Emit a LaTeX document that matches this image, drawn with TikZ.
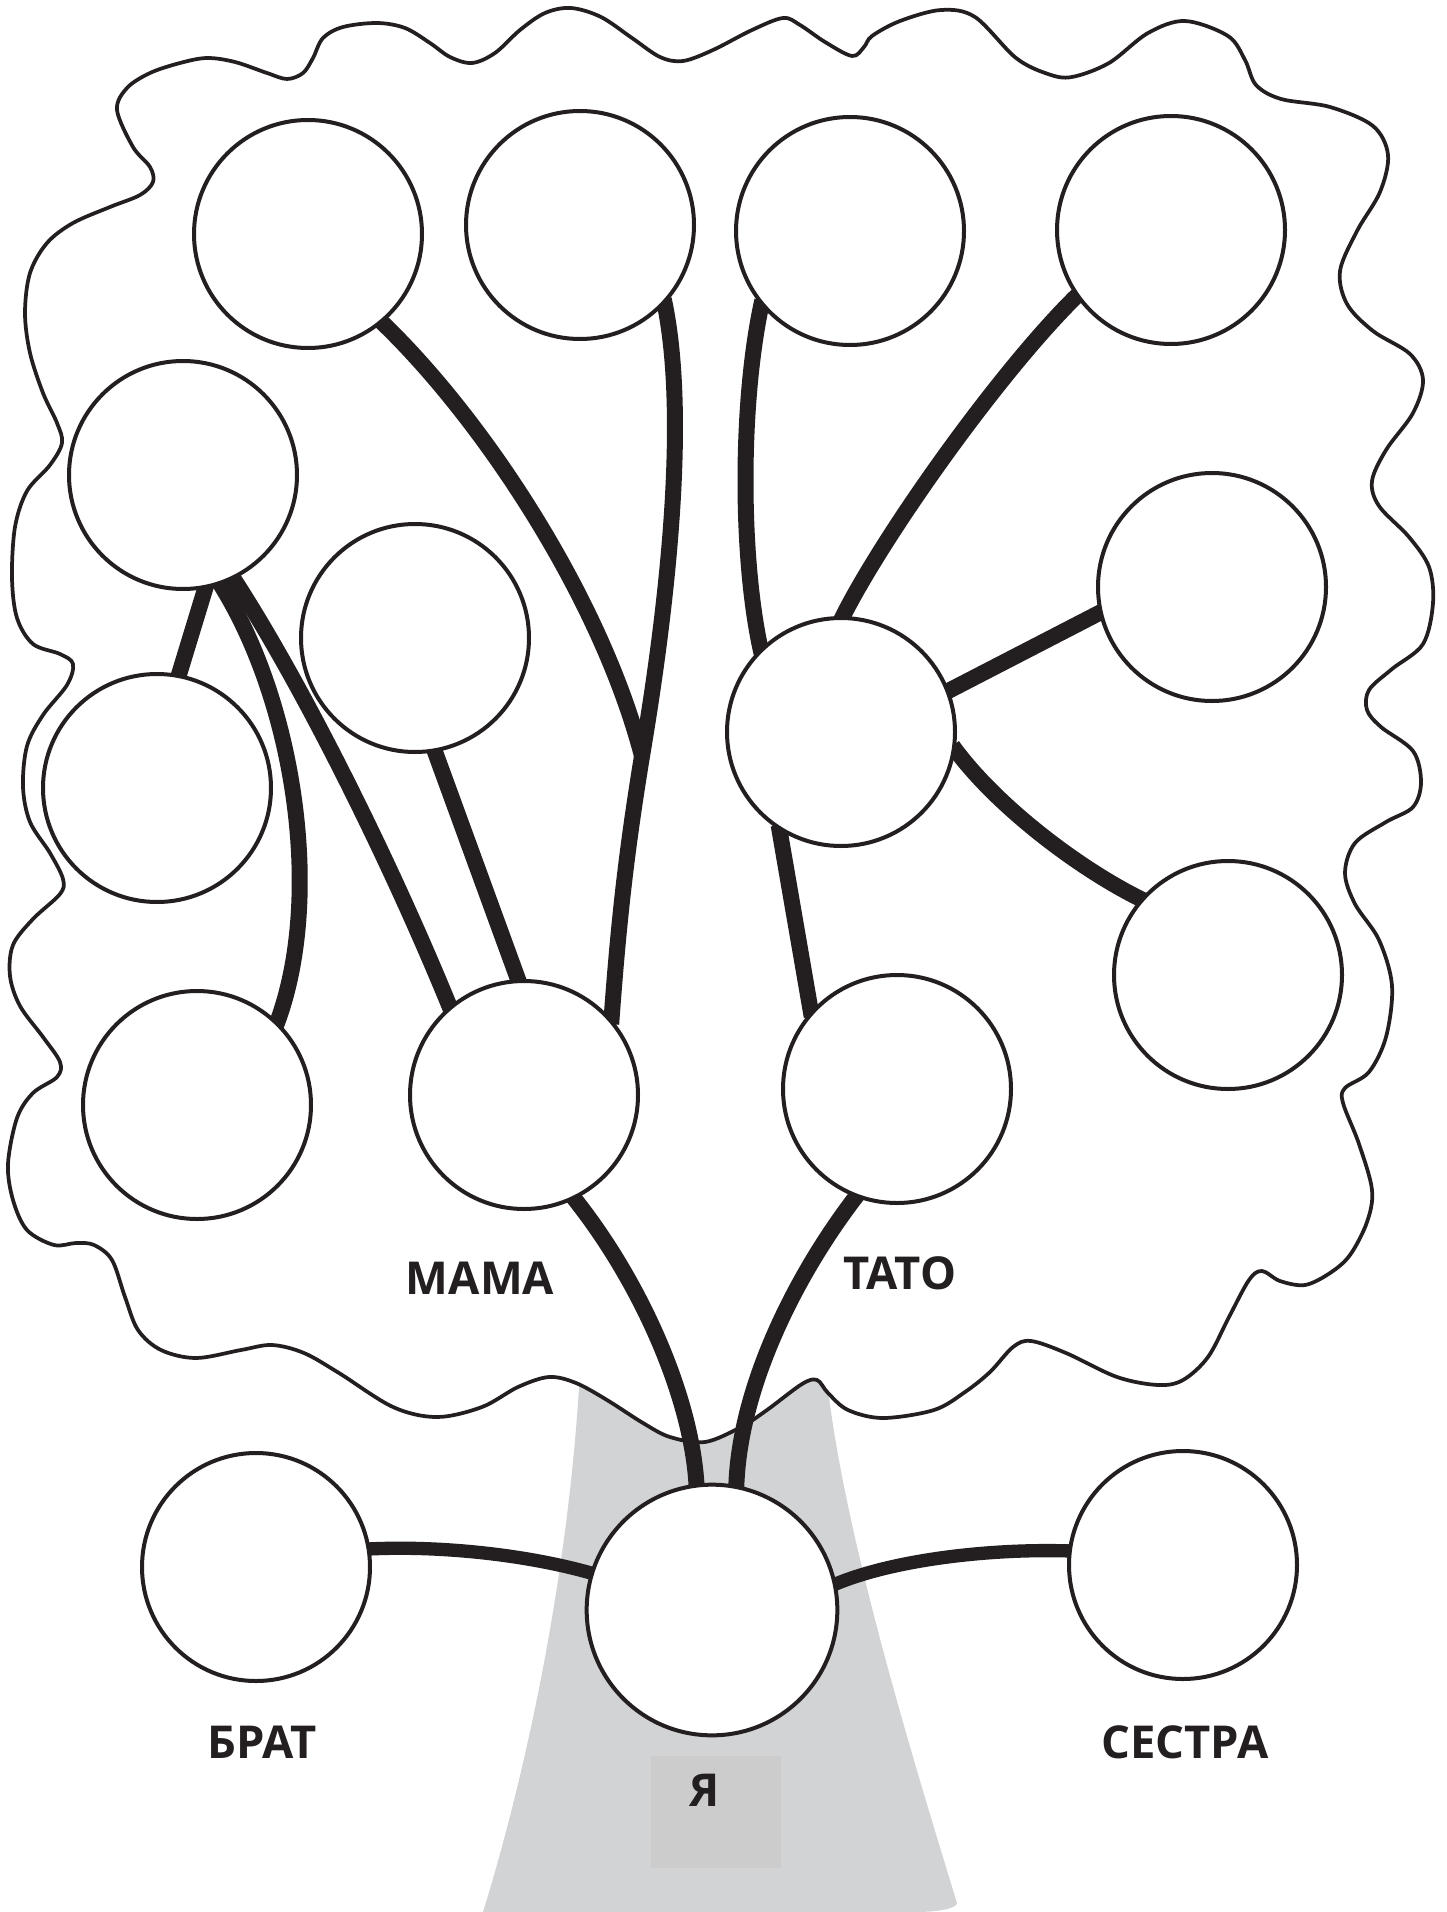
\documentclass[tikz,border=0pt]{standalone}
\usepackage{fontspec}
\setmainfont{Open Sans}
\usetikzlibrary{backgrounds}
\definecolor{inkc}{RGB}{35,31,32}
\definecolor{trunkc}{RGB}{209,211,212}
\definecolor{boxc}{RGB}{204,204,204}
\tikzset{
  ring/.style={circle, draw=inkc, line width=3pt, fill=white, minimum size=171pt, inner sep=0pt},
  bigring/.style={ring, minimum size=188pt},
  branch/.style={draw=inkc, line width=12pt, shorten <=-4pt, shorten >=-4pt},
  twig/.style={branch, line width=10pt},
  word/.style={text=inkc, font=\fontsize{34}{38}\selectfont\bfseries, inner sep=0pt}
}

\begin{document}
\begin{tikzpicture}[x=0.75pt,y=0.75pt,yscale=-1,xscale=1]
\useasboundingbox (0,0) rectangle (1446,1912);

%Shape: Circle (top row)
\node[ring] (g1) at (308,234) {};
\node[ring] (g2) at (580,225) {};
\node[ring] (g3) at (850,231) {};
\node[ring] (g4) at (1171,230) {};
%Shape: Circle (left side)
\node[ring] (g5) at (183,475) {};
\node[ring] (g6) at (415,638) {};
\node[ring] (g7) at (157,788) {};
\node[ring] (g8) at (197,1105) {};
%Shape: Circle (right side)
\node[ring] (p1) at (841,732) {};
\node[ring] (r2) at (1212,587) {};
\node[ring] (r3) at (1228,975) {};
%Shape: Circle (parents)
\node[ring] (mama) at (524,1095) {};
\node[ring] (tato) at (897,1089) {};
%Shape: Circle (children)
\node[ring] (brat) at (256,1567) {};
\node[bigring] (ja) at (712,1610) {};
\node[ring] (sestra) at (1183,1565) {};
%Shape: Rectangle
\node[fill=boxc, minimum width=98pt, minimum height=84pt, inner sep=0pt] (jabox) at (716,1812) {};

% Text Node
\node[word] (mamatxt) at (480,1278) {МАМА};
% Text Node
\node[word] (tatotxt) at (900,1273) {ТАТО};
% Text Node
\node[word] (brattxt) at (262,1742) {БРАТ};
% Text Node
\node[word] (sestratxt) at (1185,1742) {СЕСТРА};
% Text Node
\node[word] (jatxt) at (705,1790) {Я};

\coordinate (fork) at (642,756);

\begin{scope}[on background layer]
%Shape: Trunk
\fill[trunkc] (580,1370) .. controls (570,1560) and (530,1760) .. (483,1912) -- (915,1912) .. controls (940,1912) and (957,1908) .. (957,1903) .. controls (910,1750) and (840,1520) .. (826,1370) -- cycle;
%Shape: Crown
\draw[inkc, line width=2.8pt, fill=white] plot[smooth cycle, tension=0.55] coordinates {
 (133,147) (117,110) (127,88) (150,73) (180,63) (207,58) (235,62) (267,73) (287,79) (303,73) (313,58) (323,38) (343,27) (377,23) (405,28) (430,43) (450,57) (472,63) (495,53) (520,30) (545,13) (571,8) (601,17) (632,38) (660,57) (683,61) (713,50) (752,30) (783,18) (800,25) (825,42) (852,56) (864,47) (872,36) (900,21) (941,10) (975,17) (1016,58) (1048,74) (1072,77) (1109,63) (1148,33) (1185,21) (1228,36) (1245,60) (1256,85) (1281,99) (1330,107) (1373,126) (1388,155) (1380,192) (1357,231) (1340,271) (1347,304) (1373,331) (1410,354) (1423,380) (1413,413) (1386,450) (1372,481) (1379,506) (1409,537) (1429,567) (1433,603) (1423,644) (1392,669) (1369,690) (1367,710) (1381,727) (1413,751) (1421,782) (1413,807) (1386,822) (1355,843) (1345,873) (1355,904) (1379,940) (1392,986) (1386,1037) (1369,1072) (1345,1088) (1343,1103) (1359,1144) (1372,1190) (1367,1222) (1350,1255) (1330,1273) (1305,1285) (1280,1281) (1262,1271) (1249,1280) (1229,1317) (1208,1357) (1183,1380) (1158,1385) (1117,1377) (1066,1353) (1031,1341) (1013,1347) (990,1372) (965,1392) (934,1410) (883,1418) (848,1410) (828,1393) (817,1380) (802,1384) (767,1410) (741,1427) (705,1442) (670,1437) (643,1423) (607,1400) (576,1383) (549,1377) (518,1387) (482,1407) (437,1417) (393,1407) (339,1373) (304,1353) (272,1345) (241,1350) (196,1358) (161,1350) (138,1330) (125,1297) (112,1260) (94,1245) (76,1243) (54,1245) (27,1230) (13,1200) (8,1164) (17,1118) (33,1093) (57,1077) (60,1062) (43,1037) (20,1006) (10,976) (13,945) (33,919) (60,894) (63,879) (50,853) (30,822) (23,787) (27,746) (43,715) (67,685) (73,664) (60,654) (33,644) (17,618) (12,578) (15,527) (27,491) (50,465) (62,443) (57,423) (43,393) (30,353) (25,313) (30,273) (47,243) (73,223) (110,207) (140,195) (153,182) (150,167)};

%Straight Lines (mother's side)
\draw[branch] (ja.97) .. controls (693,1400) and (641,1281) .. (mama.-64);
\draw[branch] (g2.-43) .. controls (690,420) and (665,620) .. (fork) .. controls (625,860) and (618,930) .. (mama.41);
\draw[branch, shorten >=0pt] (g1.-50) .. controls (480,415) and (600,595) .. (fork);
\draw[branch] (g6.-80) -- (mama.93);
\draw[branch] (g5.-64) .. controls (300,680) and (390,860) .. (mama.130);
\draw[branch] (g5.-71) .. controls (295,700) and (325,900) .. (g8.46);
\draw[branch] (g5.-79) -- (g7.79);
%Straight Lines (father's side)
\draw[branch] (ja.79) .. controls (738,1390) and (795,1275) .. (tato.-111);
\draw[branch] (tato.138) -- (p1.-122);
\draw[branch] (p1.134) .. controls (740,560) and (740,400) .. (g3.-140);
\draw[branch] (p1.89) .. controls (880,540) and (1000,370) .. (g4.-145);
\draw[branch] (p1.21) -- (r2.193);
\draw[branch] (p1.-9) .. controls (995,805) and (1080,870) .. (r3.139);
%Straight Lines (siblings)
\draw[twig] (brat.9) .. controls (440,1545) and (530,1555) .. (ja.163);
\draw[twig] (ja.12) .. controls (890,1560) and (990,1548) .. (sestra.173);
\end{scope}
\end{tikzpicture}
\end{document}
